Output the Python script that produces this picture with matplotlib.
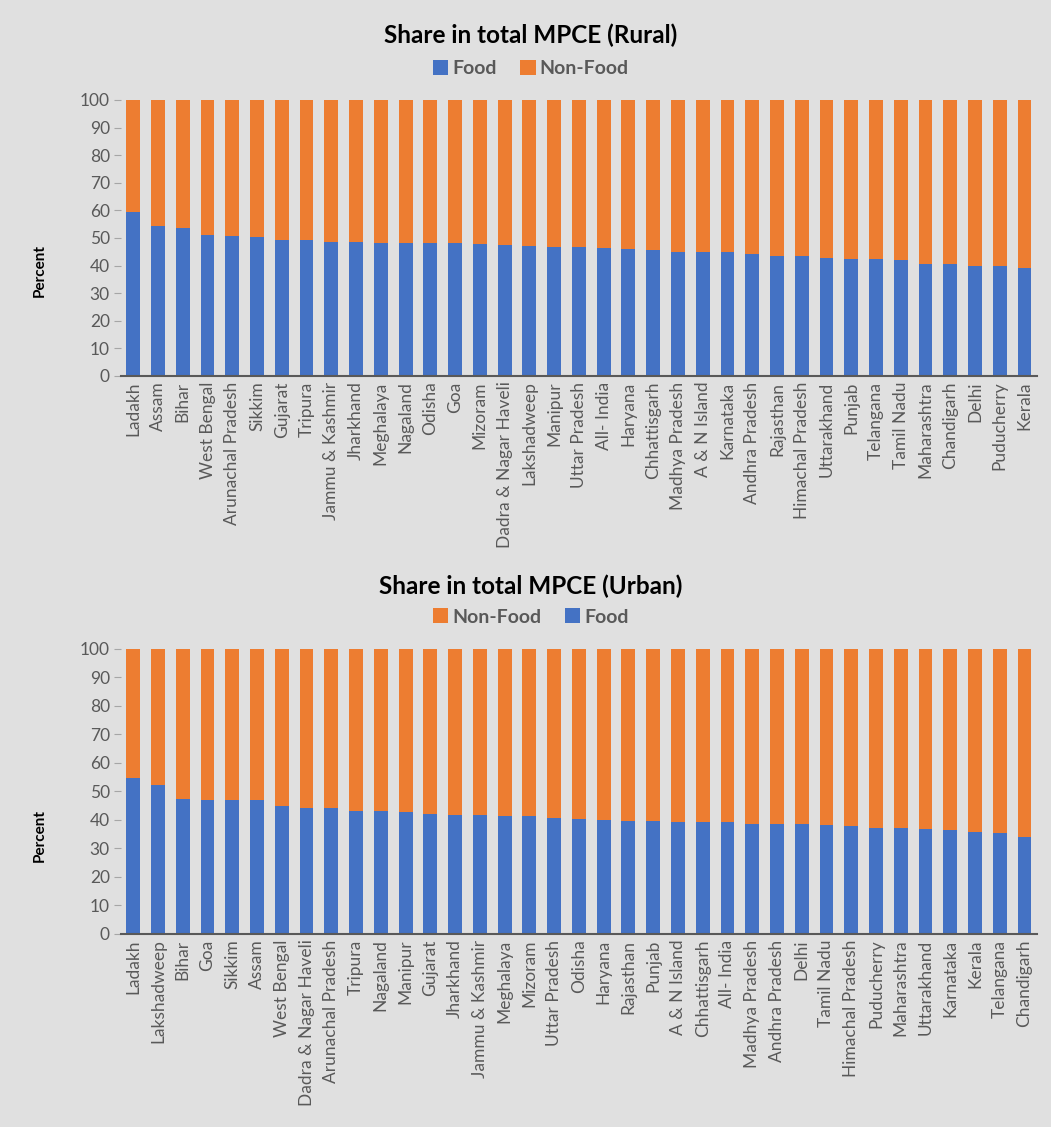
import numpy as np
import matplotlib.pyplot as plt

plt.rcParams['font.family'] = ['Lato', 'DejaVu Sans']

# --- data (food share, percent of total MPCE) ---
rural_states = ["Ladakh", "Assam", "Bihar", "West Bengal", "Arunachal Pradesh", "Sikkim",
                "Gujarat", "Tripura", "Jammu & Kashmir", "Jharkhand", "Meghalaya", "Nagaland",
                "Odisha", "Goa", "Mizoram", "Dadra & Nagar Haveli", "Lakshadweep", "Manipur",
                "Uttar Pradesh", "All- India", "Haryana", "Chhattisgarh", "Madhya Pradesh",
                "A & N Island", "Karnataka", "Andhra Pradesh", "Rajasthan", "Himachal Pradesh",
                "Uttarakhand", "Punjab", "Telangana", "Tamil Nadu", "Maharashtra", "Chandigarh",
                "Delhi", "Puducherry", "Kerala"]
rural_food = [59.4, 54.5, 53.5, 51.1, 50.8, 50.4, 49.3, 49.1, 48.5, 48.4, 48.3, 48.3,
              48.3, 48.2, 47.8, 47.4, 47.2, 46.9, 46.6, 46.2, 46.0, 45.6, 45.0, 44.9,
              44.9, 44.1, 43.5, 43.3, 42.9, 42.2, 42.2, 42.0, 40.7, 40.4, 39.9, 39.9, 39.0]

urban_states = ["Ladakh", "Lakshadweep", "Bihar", "Goa", "Sikkim", "Assam", "West Bengal",
                "Dadra & Nagar Haveli", "Arunachal Pradesh", "Tripura", "Nagaland", "Manipur",
                "Gujarat", "Jharkhand", "Jammu & Kashmir", "Meghalaya", "Mizoram",
                "Uttar Pradesh", "Odisha", "Haryana", "Rajasthan", "Punjab", "A & N Island",
                "Chhattisgarh", "All- India", "Madhya Pradesh", "Andhra Pradesh", "Delhi",
                "Tamil Nadu", "Himachal Pradesh", "Puducherry", "Maharashtra", "Uttarakhand",
                "Karnataka", "Kerala", "Telangana", "Chandigarh"]
urban_food = [54.7, 52.2, 47.3, 47.1, 47.0, 47.0, 44.9, 44.3, 44.1, 43.2, 43.1, 42.8,
              42.2, 41.9, 41.6, 41.5, 41.5, 40.8, 40.2, 39.9, 39.5, 39.5, 39.4, 39.3,
              39.2, 38.7, 38.7, 38.5, 38.1, 38.0, 37.3, 37.3, 36.9, 36.5, 35.9, 35.4, 33.9]

BLUE = "#4472C4"
ORANGE = "#ED7D31"
BG = "#e0e0e0"
GREY = "#595959"

fig = plt.figure(figsize=(10.51, 11.27), dpi=100, facecolor=BG)


def draw(ax, states, food, title, title_y, leg_y, order):
    food = np.array(food)
    x = np.arange(len(states))
    b1 = ax.bar(x, food, width=0.56, color=BLUE, label="Food")
    b2 = ax.bar(x, 100 - food, bottom=food, width=0.56, color=ORANGE, label="Non-Food")
    ax.set_facecolor(BG)
    ax.set_xlim(-0.5, len(states) - 0.5)
    ax.set_ylim(0, 100)
    ax.set_yticks(range(0, 101, 10))
    ax.set_xticks(x)
    ax.set_xticklabels(states, rotation=90, fontsize=12.5, color=GREY)
    ax.tick_params(axis='x', length=0, pad=4)
    ax.tick_params(axis='y', length=5, color="#a6a6a6", labelsize=12.5, labelcolor=GREY, pad=3)
    for s in ("top", "right", "left"):
        ax.spines[s].set_visible(False)
    ax.spines["bottom"].set_color(GREY)
    ax.spines["bottom"].set_linewidth(1.5)
    fig.text(0.505, title_y, title, ha="center", va="center", fontsize=17.5, fontweight="bold")
    handles = {"Food": b1, "Non-Food": b2}
    fig.legend([handles[k] for k in order], order, loc="center", bbox_to_anchor=(0.505, leg_y),
               ncol=2, frameon=False, handlelength=0.8, handleheight=0.8, handletextpad=0.2,
               columnspacing=1.2, prop={"weight": "bold", "size": 14}, labelcolor=GREY)


ax1 = fig.add_axes([0.115, 0.6664, 0.8716, 0.2449])
draw(ax1, rural_states, rural_food, "Share in total MPCE (Rural)", 0.969, 0.939, ["Food", "Non-Food"])
fig.text(0.038, 0.760, "Percent", rotation=90, ha="center", va="center", fontsize=11, fontweight="bold")

ax2 = fig.add_axes([0.115, 0.1713, 0.8716, 0.2529])
draw(ax2, urban_states, urban_food, "Share in total MPCE (Urban)", 0.480, 0.4525, ["Non-Food", "Food"])
fig.text(0.038, 0.259, "Percent", rotation=90, ha="center", va="center", fontsize=11, fontweight="bold")

fig.savefig("out.png", dpi=100, facecolor=BG)
